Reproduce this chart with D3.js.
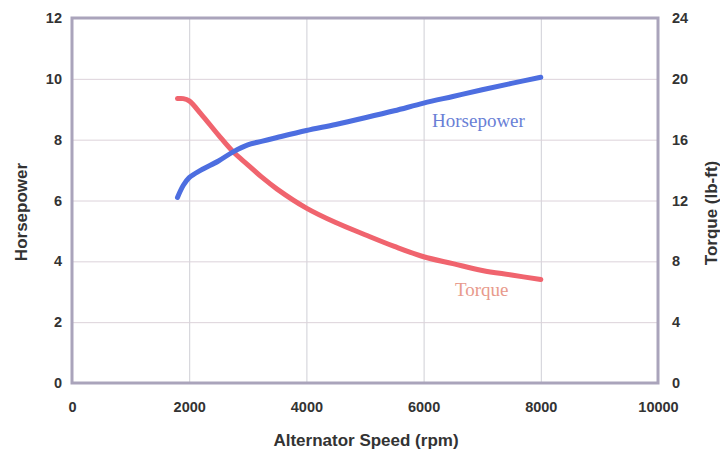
<!DOCTYPE html>
<html>
<head>
<meta charset="utf-8">
<script src="https://cdn.jsdelivr.net/npm/d3@7"></script>
<style>
body { margin: 0; background: #fff; }
</style>
</head>
<body>
<script>
// data
var rpm = [1800, 1900, 2000, 2200, 2500, 2750, 3000, 3250, 3500, 4000, 4500, 5000, 5500, 6000, 6500, 7000, 7500, 8000];
var horsepower = [6.1, 6.5, 6.75, 7.0, 7.3, 7.6, 7.83, 7.95, 8.07, 8.3, 8.5, 8.72, 8.95, 9.2, 9.42, 9.64, 9.85, 10.05];
var torque = [18.7, 18.7, 18.55, 17.7, 16.3, 15.2, 14.35, 13.5, 12.75, 11.5, 10.55, 9.75, 8.98, 8.3, 7.85, 7.4, 7.1, 6.8];
var xTicks = [0, 2000, 4000, 6000, 8000, 10000];
var hpTicks = [0, 2, 4, 6, 8, 10, 12];
var tqTicks = [0, 4, 8, 12, 16, 20, 24];

var w = 720, h = 451;
// plot box (window.top is reserved, so use px* names)
var pxLeft = 72, pxRight = 658, pxTop = 18, pxBottom = 383;

var svg = d3.select("body").append("svg")
	.attr("width", w)
	.attr("height", h);

var x = d3.scaleLinear().domain([0, 10000]).range([pxLeft, pxRight]);
var yHp = d3.scaleLinear().domain([0, 12]).range([pxBottom, pxTop]);
var yTq = d3.scaleLinear().domain([0, 24]).range([pxBottom, pxTop]);

// gridlines
svg.append("g")
	.attr("transform", "translate(0," + pxBottom + ")")
	.call(d3.axisBottom(x).tickValues(xTicks).tickSize(-(pxBottom - pxTop)).tickFormat(""))
	.call(function(g) { g.select(".domain").remove(); })
	.selectAll("line").attr("stroke", "#cfcfd6").attr("stroke-width", 1);

svg.append("g")
	.attr("transform", "translate(" + pxLeft + ",0)")
	.call(d3.axisLeft(yHp).tickValues(hpTicks).tickSize(-(pxRight - pxLeft)).tickFormat(""))
	.call(function(g) { g.select(".domain").remove(); })
	.selectAll("line").attr("stroke", "#dcd2da").attr("stroke-width", 1);

// frame
svg.append("rect")
	.attr("x", pxLeft)
	.attr("y", pxTop)
	.attr("width", pxRight - pxLeft)
	.attr("height", pxBottom - pxTop)
	.attr("fill", "none")
	.attr("stroke", "#aaa4bb")
	.attr("stroke-width", 3);

// tick labels
var tickFont = "Liberation Sans, Arial, sans-serif";

var xAxis = svg.append("g")
	.attr("transform", "translate(0," + pxBottom + ")")
	.call(d3.axisBottom(x).tickValues(xTicks).tickSize(0).tickPadding(19).tickFormat(d3.format("d")));
xAxis.select(".domain").remove();
xAxis.selectAll("text")
	.attr("font-family", tickFont)
	.attr("font-size", "14.5px")
	.attr("font-weight", "bold")
	.attr("fill", "#333");

var hpAxis = svg.append("g")
	.attr("transform", "translate(" + pxLeft + ",0)")
	.call(d3.axisLeft(yHp).tickValues(hpTicks).tickSize(0).tickPadding(10));
hpAxis.select(".domain").remove();
hpAxis.selectAll("text")
	.attr("font-family", tickFont)
	.attr("font-size", "14.5px")
	.attr("font-weight", "bold")
	.attr("fill", "#333");

var tqAxis = svg.append("g")
	.attr("transform", "translate(" + pxRight + ",0)")
	.call(d3.axisRight(yTq).tickValues(tqTicks).tickSize(0).tickPadding(14));
tqAxis.select(".domain").remove();
tqAxis.selectAll("text")
	.attr("font-family", tickFont)
	.attr("font-size", "14.5px")
	.attr("font-weight", "bold")
	.attr("fill", "#333");

// axis titles
svg.append("text")
	.attr("x", (pxLeft + pxRight) / 2 + 1)
	.attr("y", 446)
	.attr("text-anchor", "middle")
	.attr("font-family", tickFont)
	.attr("font-size", "17px")
	.attr("font-weight", "bold")
	.attr("fill", "#333")
	.text("Alternator Speed (rpm)");

svg.append("text")
	.attr("transform", "translate(27,212) rotate(-90)")
	.attr("text-anchor", "middle")
	.attr("font-family", tickFont)
	.attr("font-size", "17px")
	.attr("font-weight", "bold")
	.attr("fill", "#333")
	.text("Horsepower");

svg.append("text")
	.attr("transform", "translate(717,213) rotate(-90)")
	.attr("text-anchor", "middle")
	.attr("font-family", tickFont)
	.attr("font-size", "17px")
	.attr("font-weight", "bold")
	.attr("fill", "#333")
	.text("Torque (lb-ft)");

// curves
var hpLine = d3.line()
	.x(function(d, i) { return x(rpm[i]); })
	.y(function(d) { return yHp(d); })
	.curve(d3.curveCatmullRom.alpha(0.5));

var tqLine = d3.line()
	.x(function(d, i) { return x(rpm[i]); })
	.y(function(d) { return yTq(d); })
	.curve(d3.curveCatmullRom.alpha(0.5));

svg.append("path")
	.datum(torque)
	.attr("d", tqLine)
	.attr("fill", "none")
	.attr("stroke", "#f0646e")
	.attr("stroke-width", 5)
	.attr("stroke-linecap", "round");

svg.append("path")
	.datum(horsepower)
	.attr("d", hpLine)
	.attr("fill", "none")
	.attr("stroke", "#4d6ee0")
	.attr("stroke-width", 5)
	.attr("stroke-linecap", "round");

// series labels
svg.append("text")
	.attr("x", 432)
	.attr("y", 127)
	.attr("font-family", "Liberation Serif, Times New Roman, serif")
	.attr("font-size", "19px")
	.attr("fill", "#6a7fd6")
	.text("Horsepower");

svg.append("text")
	.attr("x", 455)
	.attr("y", 296)
	.attr("font-family", "Liberation Serif, Times New Roman, serif")
	.attr("font-size", "19px")
	.attr("fill", "#e89a8c")
	.text("Torque");
</script>
</body>
</html>
